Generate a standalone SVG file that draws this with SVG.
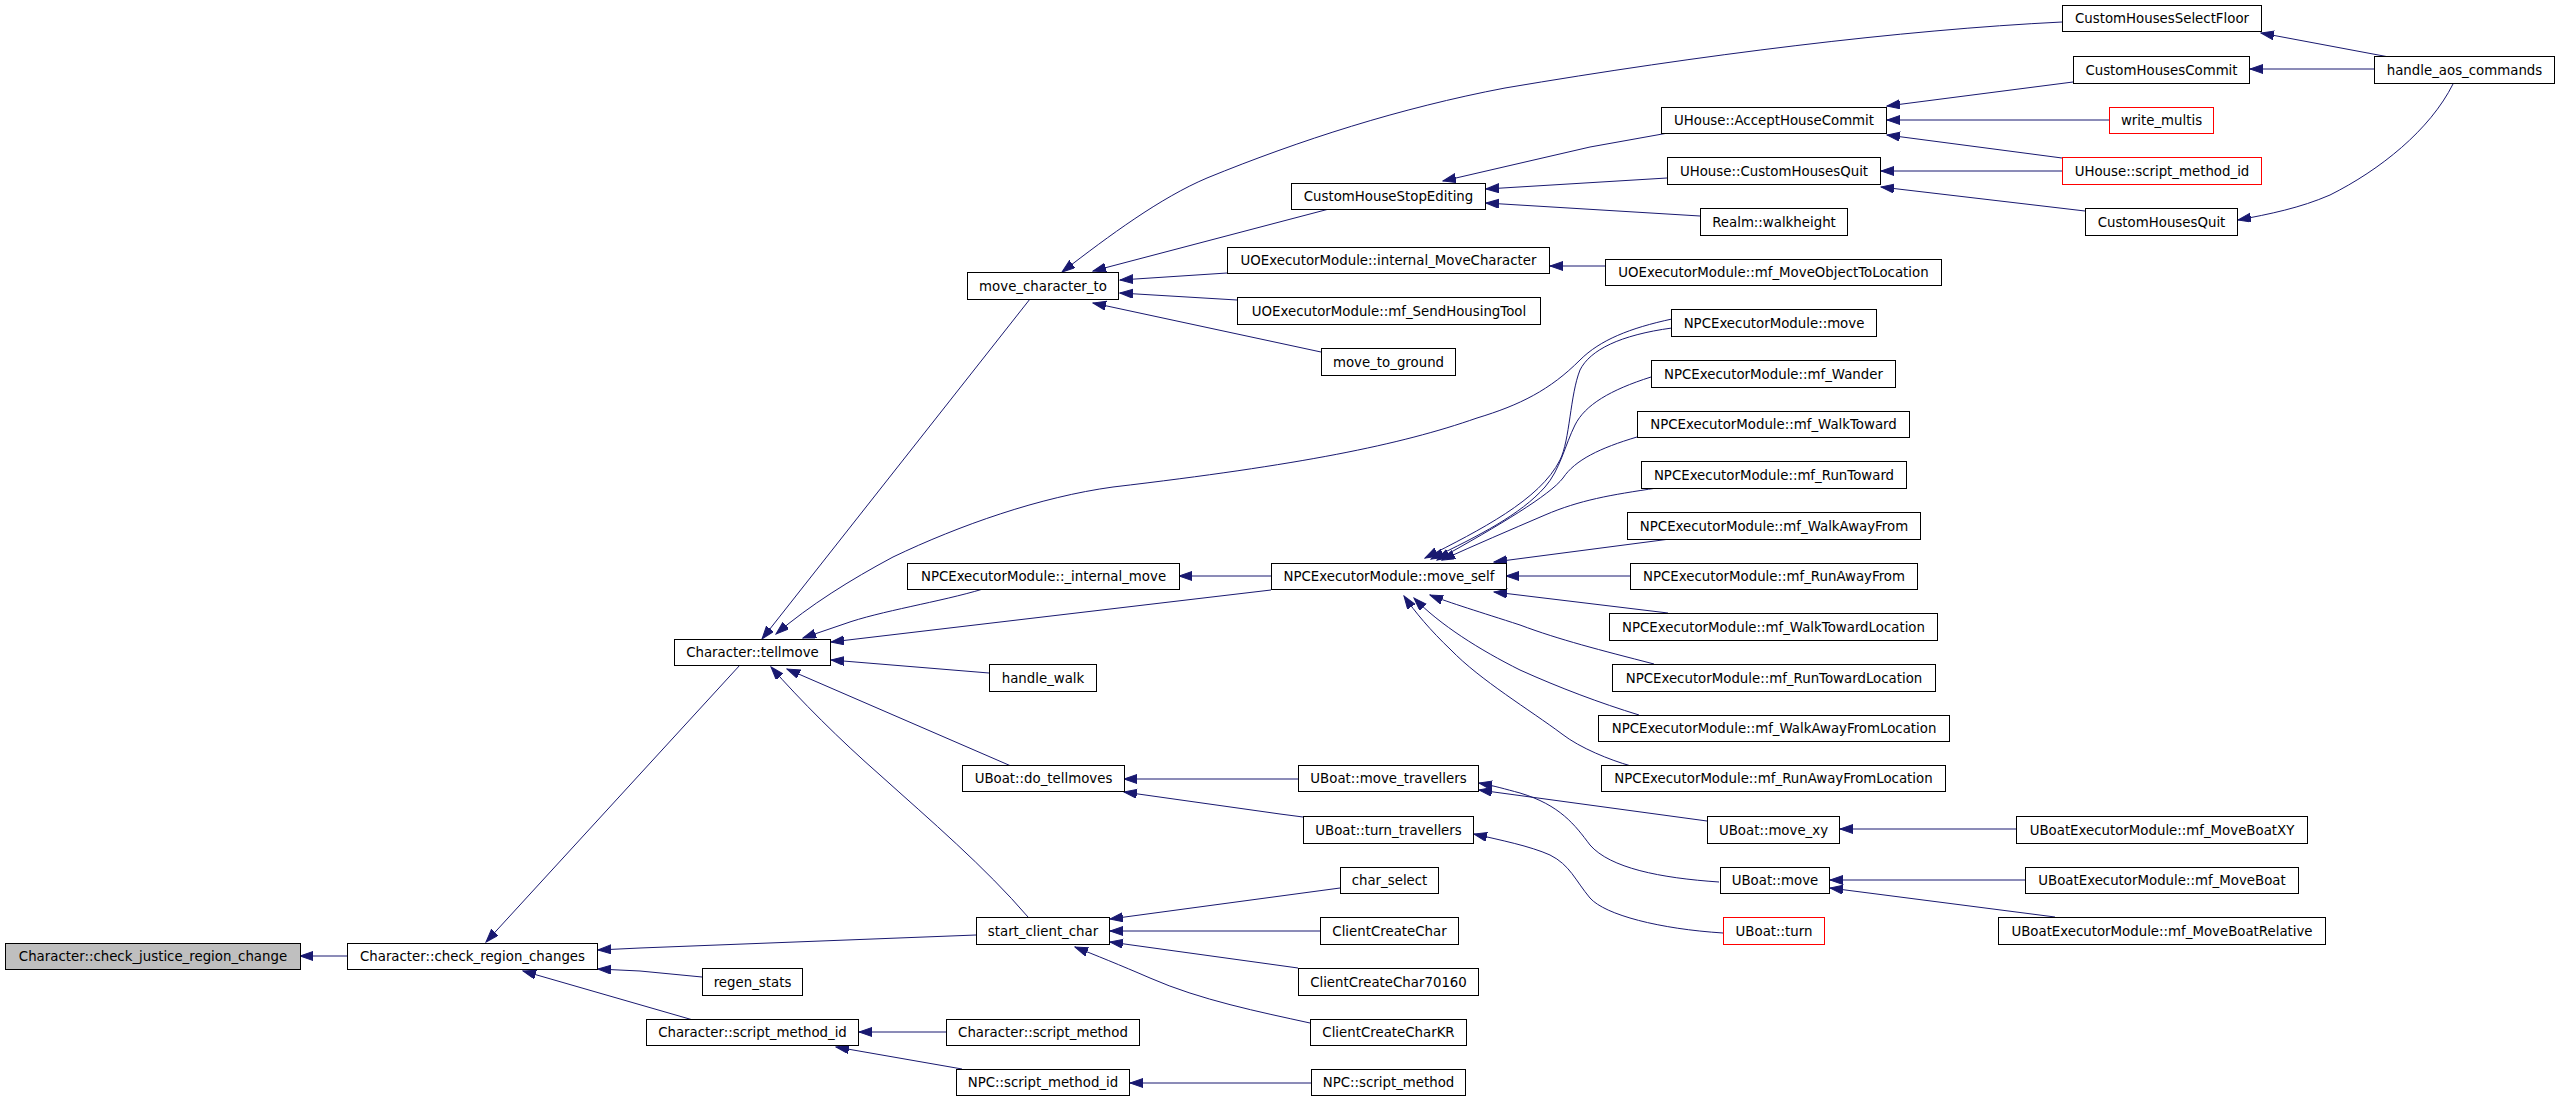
<svg xmlns="http://www.w3.org/2000/svg" width="2560" height="1101" viewBox="0 0 2560 1101">
<style>
.n rect{fill:#ffffff;stroke:#000000;stroke-width:1}
.n.root rect{fill:#bfbfbf}
.n.red rect{stroke:#ff0000}
.n text{font-family:"DejaVu Sans","Liberation Sans",sans-serif;font-size:13.33px;fill:#000000;text-anchor:middle}
.e path{fill:none;stroke:#191970;stroke-width:1;marker-end:url(#arr)}
</style>
<defs>
<marker id="arr" markerUnits="userSpaceOnUse" markerWidth="14" markerHeight="10" refX="13" refY="4.5" orient="auto">
<path d="M0,0 L13,4.5 L0,9 Z" fill="#191970" stroke="#191970" stroke-width="1"/>
</marker>
</defs>
<rect x="0" y="0" width="2560" height="1101" fill="#ffffff"/>
<g id="connectors" class="e">
<path d="M347,956 L300,956"/>
<path d="M740,665 L486,942"/>
<path d="M976,935 L640,948 L598,950"/>
<path d="M702,977 L640,971 L598,969"/>
<path d="M693,1020 L523,971"/>
<path d="M1030,299 L762,639"/>
<path d="M1672,319 C1630,328 1600,340 1580,360 C1550,390 1520,405 1477,418 C1400,445 1300,465 1113,487 C1040,497 960,525 893,557 C850,580 810,605 776,634"/>
<path d="M983,589 C940,602 880,611 844,624 L803,638"/>
<path d="M1271,590 L831,642"/>
<path d="M989,673 L831,660"/>
<path d="M1011,766 L787,669"/>
<path d="M1028,917 C985,867 930,820 880,775 C840,740 800,700 771,667"/>
<path d="M2062,22 C1900,30 1700,55 1505,88 C1400,108 1300,140 1207,178 C1160,198 1110,235 1062,272"/>
<path d="M1329,209 L1093,271"/>
<path d="M1227,273 L1120,280"/>
<path d="M1237,300 L1120,293"/>
<path d="M1321,352 L1093,303"/>
<path d="M1668,133 L1590,147 L1443,181"/>
<path d="M1667,178 L1486,189"/>
<path d="M1700,216 L1486,203"/>
<path d="M2073,82 L1887,106"/>
<path d="M2109,120 L1887,120"/>
<path d="M2062,158 L1887,135"/>
<path d="M2062,171 L1881,171"/>
<path d="M2085,211 L1881,187"/>
<path d="M2389,57 L2261,33"/>
<path d="M2374,69 L2250,69"/>
<path d="M2453,84 C2430,130 2380,170 2330,195 C2300,208 2270,214 2238,220"/>
<path d="M1605,266 L1550,266"/>
<path d="M1271,576 L1179,576"/>
<path d="M1672,328 C1620,335 1590,350 1580,370 C1570,395 1570,440 1560,460 C1540,500 1480,530 1425,558"/>
<path d="M1651,377 C1610,390 1585,405 1575,425 C1565,445 1560,470 1545,487 C1520,515 1480,535 1431,559"/>
<path d="M1637,437 C1600,448 1575,460 1563,478 C1550,495 1500,525 1437,560"/>
<path d="M1657,488 C1610,495 1580,500 1545,515 C1510,530 1475,545 1442,560"/>
<path d="M1670,539 L1494,562"/>
<path d="M1630,576 L1506,576"/>
<path d="M1668,613 L1494,592"/>
<path d="M1654,664 C1600,650 1560,640 1520,625 C1480,612 1450,603 1430,595"/>
<path d="M1639,715 C1600,703 1560,688 1520,670 C1480,650 1440,625 1414,598"/>
<path d="M1631,766 C1610,760 1580,748 1562,734 C1530,710 1480,680 1451,650 C1430,630 1415,612 1404,596"/>
<path d="M1298,779 L1124,779"/>
<path d="M1303,817 L1280,814 L1124,792"/>
<path d="M1707,821 L1479,790"/>
<path d="M1719,882 C1660,878 1610,868 1590,845 C1575,825 1560,805 1520,793 C1505,789 1495,786 1479,783"/>
<path d="M1723,933 C1660,929 1605,915 1590,898 C1575,880 1570,865 1550,855 C1530,846 1500,840 1474,834"/>
<path d="M2016,829 L1840,829"/>
<path d="M2025,880 L1830,880"/>
<path d="M2055,917 L1830,888"/>
<path d="M1340,888 L1110,919"/>
<path d="M1320,931 L1110,931"/>
<path d="M1298,968 L1110,942"/>
<path d="M1310,1023 C1260,1012 1200,1000 1150,978 C1120,965 1095,955 1075,947"/>
<path d="M946,1032 L859,1032"/>
<path d="M962,1069 L836,1047"/>
<path d="M1311,1083 L1130,1083"/>
</g>
<g id="n0" class="n root"><rect x="5.5" y="943.5" width="295" height="26"/><text x="153" y="961">Character::check_justice_region_change</text></g>
<g id="n1" class="n"><rect x="347.5" y="943.5" width="250" height="26"/><text x="472.5" y="961">Character::check_region_changes</text></g>
<g id="n2" class="n"><rect x="674.5" y="639.5" width="156" height="26"/><text x="752.5" y="657">Character::tellmove</text></g>
<g id="n3" class="n"><rect x="702.5" y="968.5" width="100" height="27"/><text x="752.5" y="986.5">regen_stats</text></g>
<g id="n4" class="n"><rect x="646.5" y="1019.5" width="212" height="26"/><text x="752.5" y="1037">Character::script_method_id</text></g>
<g id="n5" class="n"><rect x="967.5" y="272.5" width="151" height="27"/><text x="1043" y="290.5">move_character_to</text></g>
<g id="n6" class="n"><rect x="907.5" y="563.5" width="272" height="26"/><text x="1043.5" y="581">NPCExecutorModule::_internal_move</text></g>
<g id="n7" class="n"><rect x="989.5" y="664.5" width="107" height="27"/><text x="1043" y="682.5">handle_walk</text></g>
<g id="n8" class="n"><rect x="962.5" y="765.5" width="162" height="26"/><text x="1043.5" y="783">UBoat::do_tellmoves</text></g>
<g id="n9" class="n"><rect x="976.5" y="917.5" width="133" height="27"/><text x="1043" y="935.5">start_client_char</text></g>
<g id="n10" class="n"><rect x="946.5" y="1019.5" width="193" height="26"/><text x="1043" y="1037">Character::script_method</text></g>
<g id="n11" class="n"><rect x="956.5" y="1069.5" width="173" height="26"/><text x="1043" y="1087">NPC::script_method_id</text></g>
<g id="n12" class="n"><rect x="1291.5" y="183.5" width="194" height="26"/><text x="1388.5" y="201">CustomHouseStopEditing</text></g>
<g id="n13" class="n"><rect x="1227.5" y="247.5" width="322" height="26"/><text x="1388.5" y="265">UOExecutorModule::internal_MoveCharacter</text></g>
<g id="n14" class="n"><rect x="1237.5" y="297.5" width="303" height="27"/><text x="1389" y="315.5">UOExecutorModule::mf_SendHousingTool</text></g>
<g id="n15" class="n"><rect x="1321.5" y="348.5" width="134" height="27"/><text x="1388.5" y="366.5">move_to_ground</text></g>
<g id="n16" class="n"><rect x="1271.5" y="563.5" width="235" height="26"/><text x="1389" y="581">NPCExecutorModule::move_self</text></g>
<g id="n17" class="n"><rect x="1298.5" y="765.5" width="180" height="26"/><text x="1388.5" y="783">UBoat::move_travellers</text></g>
<g id="n18" class="n"><rect x="1303.5" y="816.5" width="170" height="27"/><text x="1388.5" y="834.5">UBoat::turn_travellers</text></g>
<g id="n19" class="n"><rect x="1340.5" y="867.5" width="98" height="26"/><text x="1389.5" y="885">char_select</text></g>
<g id="n20" class="n"><rect x="1320.5" y="917.5" width="138" height="27"/><text x="1389.5" y="935.5">ClientCreateChar</text></g>
<g id="n21" class="n"><rect x="1298.5" y="968.5" width="180" height="27"/><text x="1388.5" y="986.5">ClientCreateChar70160</text></g>
<g id="n22" class="n"><rect x="1310.5" y="1019.5" width="156" height="26"/><text x="1388.5" y="1037">ClientCreateCharKR</text></g>
<g id="n23" class="n"><rect x="1311.5" y="1069.5" width="154" height="26"/><text x="1388.5" y="1087">NPC::script_method</text></g>
<g id="n24" class="n"><rect x="2062.5" y="5.5" width="199" height="26"/><text x="2162" y="23">CustomHousesSelectFloor</text></g>
<g id="n25" class="n"><rect x="1661.5" y="107.5" width="225" height="26"/><text x="1774" y="125">UHouse::AcceptHouseCommit</text></g>
<g id="n26" class="n"><rect x="1667.5" y="157.5" width="213" height="27"/><text x="1774" y="175.5">UHouse::CustomHousesQuit</text></g>
<g id="n27" class="n"><rect x="1700.5" y="208.5" width="147" height="27"/><text x="1774" y="226.5">Realm::walkheight</text></g>
<g id="n28" class="n"><rect x="1605.5" y="259.5" width="336" height="26"/><text x="1773.5" y="277">UOExecutorModule::mf_MoveObjectToLocation</text></g>
<g id="n29" class="n"><rect x="1671.5" y="309.5" width="205" height="27"/><text x="1774" y="327.5">NPCExecutorModule::move</text></g>
<g id="n30" class="n"><rect x="1651.5" y="360.5" width="244" height="27"/><text x="1773.5" y="378.5">NPCExecutorModule::mf_Wander</text></g>
<g id="n31" class="n"><rect x="1637.5" y="411.5" width="272" height="26"/><text x="1773.5" y="429">NPCExecutorModule::mf_WalkToward</text></g>
<g id="n32" class="n"><rect x="1641.5" y="461.5" width="265" height="27"/><text x="1774" y="479.5">NPCExecutorModule::mf_RunToward</text></g>
<g id="n33" class="n"><rect x="1627.5" y="512.5" width="293" height="27"/><text x="1774" y="530.5">NPCExecutorModule::mf_WalkAwayFrom</text></g>
<g id="n34" class="n"><rect x="1630.5" y="563.5" width="287" height="26"/><text x="1774" y="581">NPCExecutorModule::mf_RunAwayFrom</text></g>
<g id="n35" class="n"><rect x="1609.5" y="613.5" width="328" height="27"/><text x="1773.5" y="631.5">NPCExecutorModule::mf_WalkTowardLocation</text></g>
<g id="n36" class="n"><rect x="1612.5" y="664.5" width="323" height="27"/><text x="1774" y="682.5">NPCExecutorModule::mf_RunTowardLocation</text></g>
<g id="n37" class="n"><rect x="1598.5" y="715.5" width="351" height="26"/><text x="1774" y="733">NPCExecutorModule::mf_WalkAwayFromLocation</text></g>
<g id="n38" class="n"><rect x="1601.5" y="765.5" width="344" height="26"/><text x="1773.5" y="783">NPCExecutorModule::mf_RunAwayFromLocation</text></g>
<g id="n39" class="n"><rect x="1707.5" y="816.5" width="132" height="27"/><text x="1773.5" y="834.5">UBoat::move_xy</text></g>
<g id="n40" class="n"><rect x="1720.5" y="867.5" width="109" height="26"/><text x="1775" y="885">UBoat::move</text></g>
<g id="n41" class="n red"><rect x="1723.5" y="917.5" width="101" height="27"/><text x="1774" y="935.5">UBoat::turn</text></g>
<g id="n42" class="n"><rect x="2073.5" y="56.5" width="176" height="27"/><text x="2161.5" y="74.5">CustomHousesCommit</text></g>
<g id="n43" class="n"><rect x="2374.5" y="56.5" width="180" height="27"/><text x="2464.5" y="74.5">handle_aos_commands</text></g>
<g id="n44" class="n red"><rect x="2109.5" y="107.5" width="104" height="26"/><text x="2161.5" y="125">write_multis</text></g>
<g id="n45" class="n red"><rect x="2062.5" y="157.5" width="199" height="27"/><text x="2162" y="175.5">UHouse::script_method_id</text></g>
<g id="n46" class="n"><rect x="2085.5" y="208.5" width="152" height="27"/><text x="2161.5" y="226.5">CustomHousesQuit</text></g>
<g id="n47" class="n"><rect x="2016.5" y="816.5" width="291" height="27"/><text x="2162" y="834.5">UBoatExecutorModule::mf_MoveBoatXY</text></g>
<g id="n48" class="n"><rect x="2025.5" y="867.5" width="273" height="26"/><text x="2162" y="885">UBoatExecutorModule::mf_MoveBoat</text></g>
<g id="n49" class="n"><rect x="1998.5" y="917.5" width="327" height="27"/><text x="2162" y="935.5">UBoatExecutorModule::mf_MoveBoatRelative</text></g>
</svg>
